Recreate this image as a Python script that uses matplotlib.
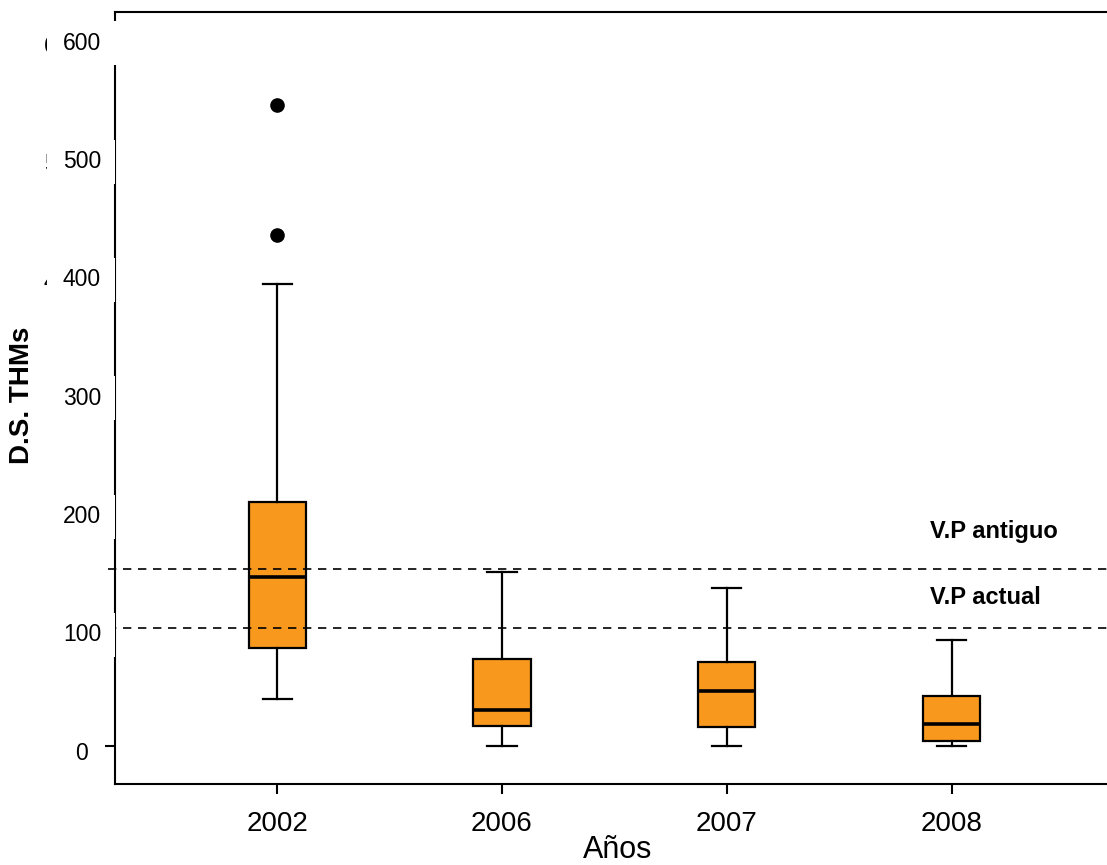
import matplotlib
matplotlib.use("Agg")
import matplotlib.pyplot as plt
import matplotlib.transforms as mtransforms
from matplotlib.patches import Rectangle

plt.rcParams['font.family'] = ['Liberation Sans', 'DejaVu Sans']

# ---- data ----
years = ["2002", "2006", "2007", "2008"]
q1 = [83, 17, 16, 4]
median = [143, 30.5, 46.5, 19]
q3 = [206, 73.5, 71, 42.5]
whisker_low = [39.5, 0, 0, 0]
whisker_high = [391, 147, 134, 90]
outliers = [[542, 432], [], [], []]

ref_values = [150, 100]           # dashed reference lines
ref_labels = ["V.P antiguo", "V.P actual"]
ref_label_y = [176, 120]

yticks = [0, 100, 200, 300, 400, 500, 600]
ytick_labels = ["0", "100", "200", "300", "400", "500", "600"]

# ---- figure / axes geometry (pixels) ----
W, H, DPI = 1107, 865, 100
fig = plt.figure(figsize=(W / DPI, H / DPI), dpi=DPI)
ax_left, ax_right, ax_top, ax_bottom = 115, 1130, 11.5, 784
ax = fig.add_axes([ax_left / W, 1 - ax_bottom / H,
                   (ax_right - ax_left) / W, (ax_bottom - ax_top) / H])
ax_w_px = ax_right - ax_left

ax.set_xlim(0.279, 4.793)
ax.set_ylim(-32, 621)

orange = "#F8981D"
stats = []
for i, yr in enumerate(years):
    stats.append(dict(label=yr, med=median[i], q1=q1[i], q3=q3[i],
                      whislo=whisker_low[i], whishi=whisker_high[i],
                      fliers=outliers[i]))

ax.bxp(stats, positions=range(1, len(years) + 1), widths=0.254,
       capwidths=0.13, patch_artist=True, manage_ticks=False,
       boxprops=dict(facecolor=orange, edgecolor="black", linewidth=1.6),
       medianprops=dict(color="black", linewidth=2.6),
       whiskerprops=dict(color="black", linewidth=1.6),
       capprops=dict(color="black", linewidth=1.6),
       flierprops=dict(marker="o", markerfacecolor="black",
                       markeredgecolor="black", markersize=9.5))

# spines
for side in ["left", "top", "bottom"]:
    ax.spines[side].set_linewidth(1.5)
    ax.spines[side].set_color("black")
ax.spines["right"].set_visible(False)

# x axis ticks and labels
ax.set_xticks(range(1, len(years) + 1))
ax.set_xticklabels(years)
ax.tick_params(axis="x", length=7.5, width=1.5, pad=12, labelsize=20,
               direction="out")

# y axis ticks; labels drawn as text so they sit above their backgrounds
ax.set_yticks(yticks)
ax.tick_params(axis="y", length=7.5, width=1.5, labelleft=False,
               direction="out")

ytrans = mtransforms.blended_transform_factory(ax.transAxes, ax.transData)
label_trans = mtransforms.offset_copy(ytrans, fig=fig, y=-7, units="dots")
px_per_unit = (746 - 627.7) / 100.0

# leading digits of older labels, mostly hidden behind the label backgrounds
for v, t in zip(yticks[4:], ytick_labels[4:]):
    ax.text((44 - ax_left) / ax_w_px, v, t[0], transform=mtransforms.offset_copy(
        ytrans, fig=fig, y=-10, units="dots"), ha="left", va="center",
        fontsize=16.5, zorder=4, clip_on=False)

for v, t in zip(yticks, ytick_labels):
    if v > 0:
        right_px = 118 if v == yticks[-1] else 115
        h_units = 44 / px_per_unit
        cy = v - 7 / px_per_unit
        ax.add_patch(Rectangle(((47 - ax_left) / ax_w_px, cy - h_units / 2),
                               (right_px - 47) / ax_w_px, h_units,
                               transform=ytrans, facecolor="white",
                               edgecolor="none", zorder=5, clip_on=False))
    ax.text((82 - ax_left) / ax_w_px, v, t, transform=label_trans,
            ha="center", va="center", fontsize=16.5, zorder=6, clip_on=False)

# reference lines and their labels
for v, lab, ly in zip(ref_values, ref_labels, ref_label_y):
    ax.plot([(108 - ax_left) / ax_w_px, 1.0], [v, v], transform=ytrans,
            color="black", linewidth=1.2, linestyle=(0, (5, 4)),
            clip_on=False, zorder=3)
    ax.text(3.902, ly, lab, fontsize=17, fontweight="bold", ha="left",
            va="baseline", zorder=6)

# axis titles
fig.text(22 / W, 1 - 395 / H, "D.S. THMs", rotation=90, ha="center",
         va="center", fontsize=20, fontweight="bold")
fig.text(618 / W, 1 - 850 / H, "Años", ha="center", va="center",
         fontsize=22)

fig.savefig("out.png", dpi=DPI)
